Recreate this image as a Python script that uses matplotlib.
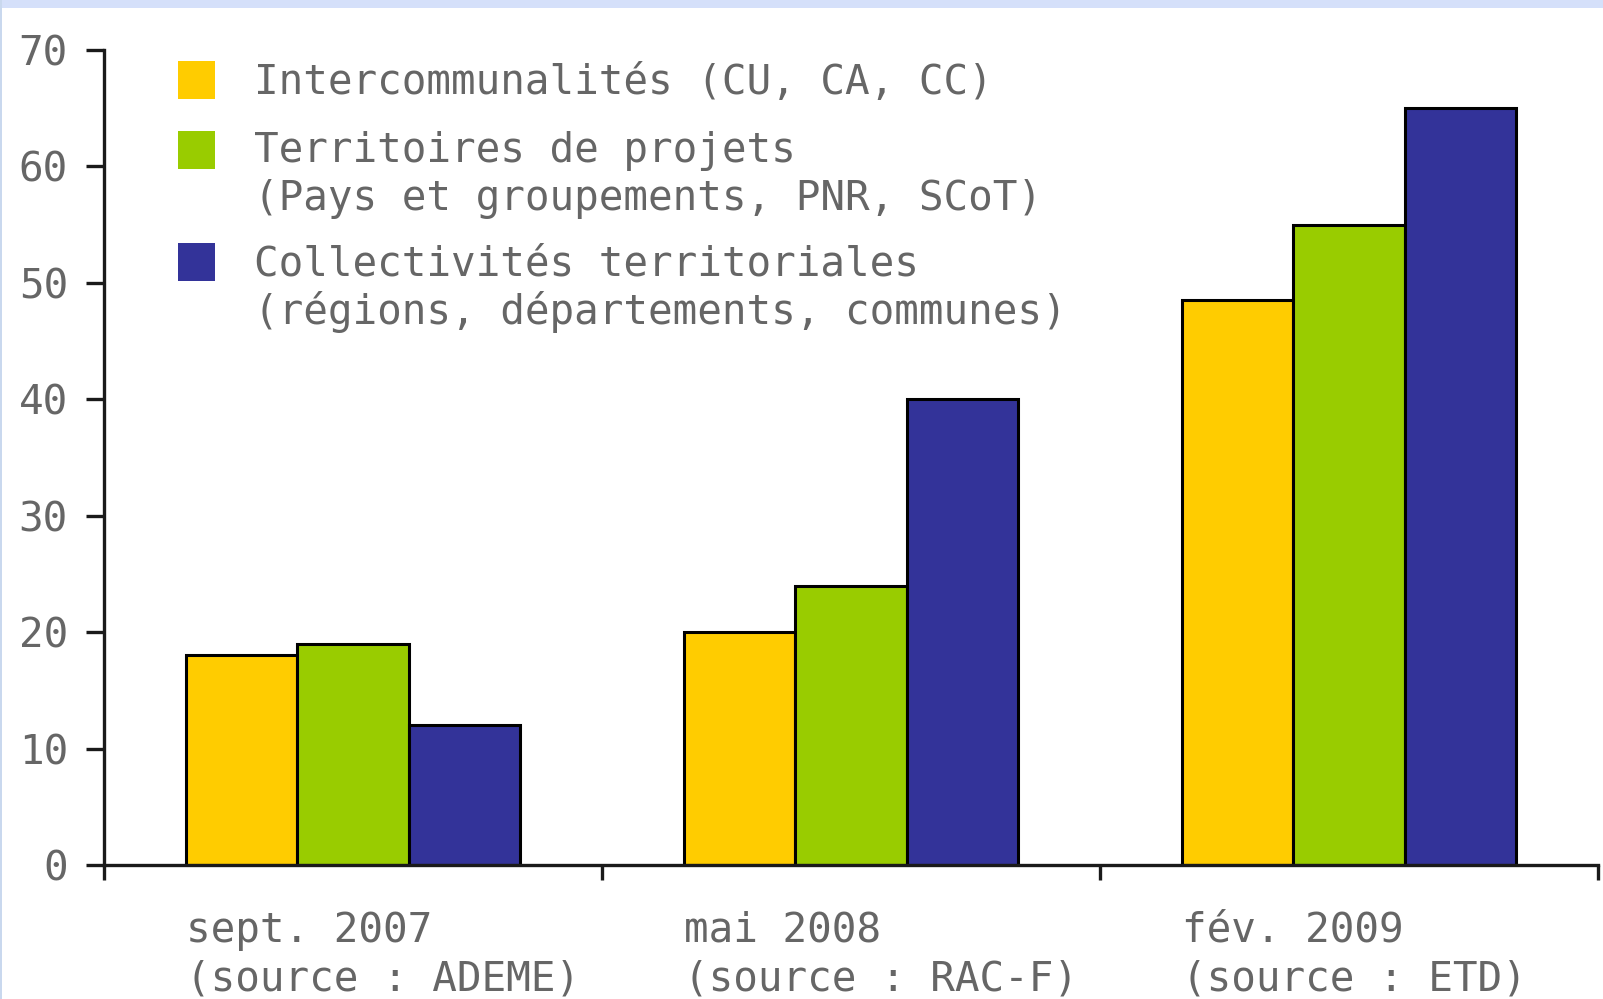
import matplotlib
matplotlib.use("Agg")
import matplotlib.pyplot as plt
from matplotlib.patches import Rectangle
import numpy as np

categories = ["sept. 2007\n(source : ADEME)", "mai 2008\n(source : RAC-F)", "fév. 2009\n(source : ETD)"]
series_names = [["Intercommunalités (CU, CA, CC)"],
                ["Territoires de projets", "(Pays et groupements, PNR, SCoT)"],
                ["Collectivités territoriales", "(régions, départements, communes)"]]
intercommunalites = [18, 20, 48.5]
territoires = [19, 24, 55]
collectivites = [12, 40, 65]
yticks = [0, 10, 20, 30, 40, 50, 60, 70]
colors = ["#FFCC00", "#99CC00", "#333399"]

FONT = "DejaVu Sans Mono"
FS = 29.5
txtcol = "#666666"

W, H = 1603, 999
fig = plt.figure(figsize=(W / 100, H / 100), dpi=100)
fig.patch.set_facecolor("white")

# light blue frame strips
fig.add_artist(Rectangle((0, 1 - 8 / H), 1, 8 / H, transform=fig.transFigure,
                         facecolor="#D5E0FA", edgecolor="none"))
fig.add_artist(Rectangle((0, 0), 2 / W, 1, transform=fig.transFigure,
                         facecolor="#C9D8EE", edgecolor="none"))

ax = fig.add_axes([104 / W, 1 - 865 / H, (1598 - 104) / W, (865 - 50) / H])
x = np.arange(len(categories))
w = 0.224
for i, (vals, c) in enumerate(zip([intercommunalites, territoires, collectivites], colors)):
    ax.bar(x + (i - 1) * w, vals, width=w, color=c, edgecolor="black", linewidth=2.2, zorder=2)

ax.set_xlim(-0.5, 2.5)
ax.set_ylim(0, 70)
for s in ["top", "right"]:
    ax.spines[s].set_visible(False)
for s in ["left", "bottom"]:
    ax.spines[s].set_linewidth(2.4)
    ax.spines[s].set_color("#1a1a1a")

ax.set_yticks(yticks)
ax.set_yticklabels([str(t) for t in yticks], fontsize=FS, color=txtcol, family=FONT)
ax.tick_params(axis="y", length=13, width=2.4, color="#1a1a1a", pad=13)

ax.set_xticks(np.arange(-0.5, 3.0, 1.0))
ax.set_xticklabels([])
ax.tick_params(axis="x", which="major", length=11, width=2.4, color="#1a1a1a")
ax.set_xticks(x - 1.5 * w, minor=True)
ax.set_xticklabels(categories, minor=True, fontsize=FS, color=txtcol, ha="left",
                   linespacing=1.28, va="top", family=FONT)
ax.tick_params(axis="x", which="minor", length=0, pad=33)

# legend drawn manually (square aligned with the first line of each entry)
square_y = [80, 150, 262]
line_y = [[83], [151, 199], [265, 312]]
for sy, ly, c, lines in zip(square_y, line_y, colors, series_names):
    fig.add_artist(Rectangle((178 / W, 1 - (sy + 19) / H), 37 / W, 38 / H,
                             transform=fig.transFigure, facecolor=c, edgecolor="none"))
    for yy, t in zip(ly, lines):
        fig.text(254 / W, 1 - yy / H, t, fontsize=FS, color=txtcol, family=FONT,
                 ha="left", va="center")

fig.savefig("out.png", dpi=100)
